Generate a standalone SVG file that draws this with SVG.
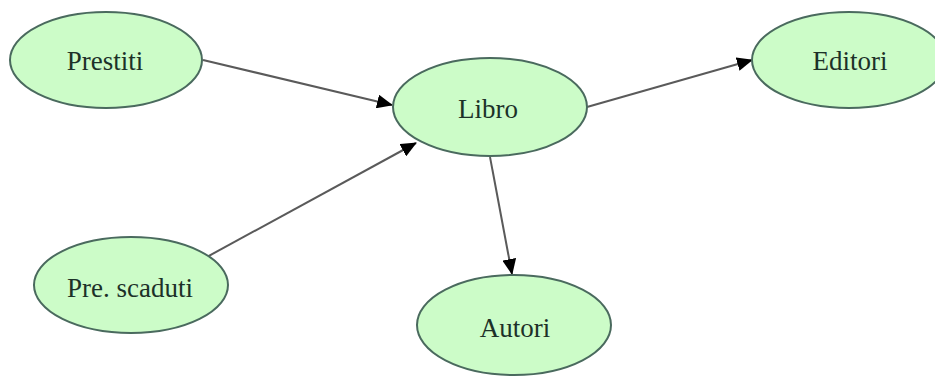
<svg xmlns="http://www.w3.org/2000/svg" width="935" height="380" viewBox="0 0 935 380">
  <style>
    .node ellipse { fill: #ccfcc8; stroke: #4a6a5e; stroke-width: 2; }
    .node text { font-family: "Liberation Serif", "Times New Roman", serif; font-size: 27px; fill: #1c3128; text-anchor: middle; }
    .edge { stroke: #5a5a5a; stroke-width: 2; fill: none; marker-end: url(#arrow); }
  </style>
  <defs>
    <marker id="arrow" viewBox="0 0 16 14" refX="15" refY="7" markerWidth="16" markerHeight="14" markerUnits="userSpaceOnUse" orient="auto">
      <path d="M0,0 L16,7 L0,14 z" fill="#000"/>
    </marker>
  </defs>
  <rect width="935" height="380" fill="#fff"/>

  <!-- connectors -->
  <g id="edges">
    <line class="edge" x1="203" y1="60" x2="392" y2="105"/>
    <line class="edge" x1="205" y1="258" x2="416" y2="143"/>
    <line class="edge" x1="587" y1="107" x2="752" y2="60"/>
    <line class="edge" x1="490" y1="157" x2="512" y2="274"/>
  </g>

  <g id="prestiti" class="node">
    <ellipse cx="106" cy="60" rx="96" ry="48"/>
    <text x="105" y="70">Prestiti</text>
  </g>
  <g id="libro" class="node">
    <ellipse cx="490" cy="107" rx="97" ry="49"/>
    <text x="488" y="118">Libro</text>
  </g>
  <g id="editori" class="node">
    <ellipse cx="849" cy="60" rx="97" ry="48"/>
    <text x="850" y="70">Editori</text>
  </g>
  <g id="pre-scaduti" class="node">
    <ellipse cx="131" cy="285" rx="97" ry="48"/>
    <text x="130" y="297">Pre. scaduti</text>
  </g>
  <g id="autori" class="node">
    <ellipse cx="514" cy="325" rx="97" ry="50"/>
    <text x="515" y="337">Autori</text>
  </g>
</svg>
